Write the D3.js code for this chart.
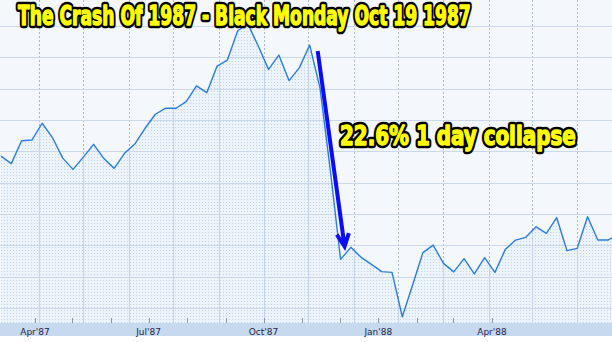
<!DOCTYPE html>
<html><head><meta charset="UTF-8">
  <title>The Crash Of 1987</title>
  <script src="https://d3js.org/d3.v7.min.js"></script>
  <style>
    body { margin: 0; background: #fff; }
  </style>
</head>
<body>
  <svg width="612" height="342"></svg>
  <script>
    // weekly closes (Fridays)
    const weeks = d3.timeFriday.range(new Date(1987, 2, 6), new Date(1988, 3, 30));
    const closes = [
      285.6, 282.6, 291.7, 292.0, 298.7, 293.0, 284.8, 280.3, 285.2, 290.3,
      284.6, 280.7, 286.7, 290.4, 296.7, 302.3, 304.7, 304.7, 307.3, 313.6,
      310.9, 321.5, 323.9, 335.6, 338.3, 329.5, 320.2, 325.9, 315.7, 320.9,
      329.9, 312.8, 280.1, 244.4, 249.2, 245.2, 242.4, 239.5, 239.2, 221.5,
      234.2, 247.1, 250.1, 242.8, 239.4, 244.7, 238.6, 245.1, 239.2, 248.3,
      252.1, 253.2, 257.4, 254.8, 261.1, 247.9, 248.8, 261.4, 252.1, 252.1,
      254.5
    ];
    const data = weeks.map((d, i) => ({date: d, value: closes[i]}));

    const yTicks = d3.range(225, 338, 12.5);
    const navRange = [new Date(1987, 3, 1), new Date(1988, 3, 1)];
    const titleText = "The Crash Of 1987 - Black Monday Oct 19 1987";
    const noteText = "22.6% 1 day collapse";

    const width = 612, height = 342, plotBottom = 323, navBottom = 336;

    const svg = d3.select("svg");
    const defs = svg.append("defs");

    // dotted fill under the line
    const pat = defs.append("pattern")
      .attr("id", "dots").attr("patternUnits", "userSpaceOnUse")
      .attr("width", 3).attr("height", 3);
    pat.append("rect").attr("width", 3).attr("height", 3).attr("fill", "#edf3fa");
    pat.append("rect").attr("x", 1).attr("y", 1).attr("width", 1).attr("height", 1).attr("fill", "#c0d2ea");

    const x = d3.scaleTime()
      .domain([weeks[0], weeks[weeks.length - 1]])
      .range([1, 618.4]);
    const y = d3.scaleLinear()
      .domain([225, 337.5])
      .range([308, 26]);
    const navX = d3.scaleTime()
      .domain(navRange)
      .range([35, 492]);

    const area = d3.area()
      .x(d => x(d.date))
      .y0(plotBottom)
      .y1(d => y(d.value));
    const line = d3.line()
      .x(d => x(d.date))
      .y(d => y(d.value));

    defs.append("clipPath").attr("id", "areaClip")
      .append("path").attr("d", area(data));

    // plot background
    svg.append("rect")
      .attr("width", width).attr("height", plotBottom)
      .attr("fill", "#f4f8fd");

    const months = x.ticks(d3.timeMonth.every(1));

    svg.append("g").selectAll("line")
      .data(months).join("line")
        .attr("x1", d => Math.round(x(d)) + 0.5).attr("x2", d => Math.round(x(d)) + 0.5)
        .attr("y1", 0).attr("y2", plotBottom)
        .attr("stroke", "#aeb6c4").attr("stroke-dasharray", "2,2");

    svg.append("path")
      .attr("d", area(data))
      .attr("fill", "url(#dots)");

    svg.append("g").attr("clip-path", "url(#areaClip)")
      .selectAll("line")
      .data(months).join("line")
        .attr("x1", d => Math.round(x(d)) + 0.5).attr("x2", d => Math.round(x(d)) + 0.5)
        .attr("y1", 0).attr("y2", plotBottom)
        .attr("stroke", "#c3d4ec");

    svg.append("g").selectAll("line")
      .data(yTicks).join("line")
        .attr("x1", 0).attr("x2", width)
        .attr("y1", d => Math.round(y(d)) + 0.5).attr("y2", d => Math.round(y(d)) + 0.5)
        .attr("stroke", "#cbd8ea");

    svg.append("path")
      .attr("d", line(data))
      .attr("fill", "none")
      .attr("stroke", "#2a7de0")
      .attr("stroke-width", 1.4)
      .attr("stroke-linejoin", "round");

    // navigator band along the bottom
    svg.append("rect")
      .attr("y", plotBottom).attr("width", width).attr("height", navBottom - plotBottom)
      .attr("fill", "#c6d9ef");

    svg.append("g").selectAll("line")
      .data(navX.ticks(d3.timeMonth.every(1))).join("line")
        .attr("x1", d => Math.round(navX(d)) + 0.5).attr("x2", d => Math.round(navX(d)) + 0.5)
        .attr("y1", plotBottom - 5).attr("y2", plotBottom)
        .attr("stroke", "#8f96a3");

    svg.append("g").selectAll("text")
      .data(navX.ticks(d3.timeMonth.every(3))).join("text")
        .attr("x", d => navX(d))
        .attr("y", 334.5)
        .attr("text-anchor", "middle")
        .attr("font-family", "'DejaVu Sans', Verdana, sans-serif")
        .attr("font-size", 9)
        .attr("fill", "#262448")
        .text(d3.timeFormat("%b'%y"));

    // yellow outlined captions (black halo, then a yellow pass to thicken the glyphs)
    // squeezed horizontally with a scale so the text fits its width
    function caption(txt, cx, cy, len) {
      const g = svg.append("g")
        .attr("font-family", "'DejaVu Sans Condensed', 'DejaVu Sans', sans-serif")
        .attr("font-weight", "bold")
        .attr("font-size", 26)
        .attr("stroke-linejoin", "round");
      const back = g.append("text")
        .attr("fill", "#000").attr("stroke", "#000").attr("stroke-width", 6.5)
        .text(txt);
      const front = g.append("text")
        .attr("fill", "#ffff00").attr("stroke", "#ffff00").attr("stroke-width", 1.3)
        .text(txt);
      const sx = len / front.node().getComputedTextLength();
      g.attr("transform", `translate(${cx},${cy}) scale(${sx},1)`);
      back.attr("stroke-width", 6.5);
    }
    caption(titleText, 18, 24.5, 453);
    caption(noteText, 340, 145, 236);

    // arrow from the pre-crash high down to the crash week
    const x0 = x(weeks[30]) + 8, y0 = y(closes[30]) + 6;
    const x1 = x(weeks[33]) + 4, y1 = y(closes[33]) - 13;
    const ang = Math.atan2(y1 - y0, x1 - x0);
    const barb = 14, spread = 0.45;
    const arrow = d3.path();
    arrow.moveTo(x0, y0); arrow.lineTo(x1, y1);
    arrow.moveTo(x1 - barb * Math.cos(ang - spread), y1 - barb * Math.sin(ang - spread));
    arrow.lineTo(x1, y1);
    arrow.lineTo(x1 - barb * Math.cos(ang + spread), y1 - barb * Math.sin(ang + spread));
    svg.append("path")
      .attr("d", arrow.toString())
      .attr("fill", "none")
      .attr("stroke", "#0c0cf5")
      .attr("stroke-width", 4)
      .attr("stroke-linecap", "butt");
  </script>
</body></html>
